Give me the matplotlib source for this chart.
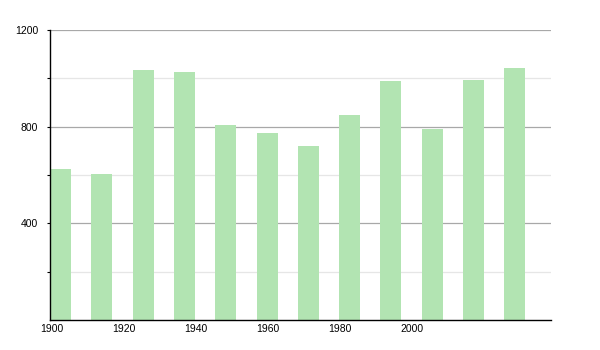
import matplotlib
matplotlib.use('Agg')
import matplotlib.pyplot as plt
import numpy as np

years = [1900, 1910, 1920, 1930, 1940, 1950, 1960, 1970, 1980, 1990, 2000, 2010]
values = [625, 604, 1034, 1027, 807, 774, 720, 847, 989, 792, 994, 1043]
label_years = [1900, 1920, 1940, 1960, 1980, 2000]

plt.rcParams['font.family'] = ['Liberation Sans', 'DejaVu Sans']

fig = plt.figure(figsize=(6, 3.5), dpi=100)
ax = fig.add_axes([50 / 600, 30 / 350, 501 / 600, 290 / 350])

pos = np.arange(len(years))
ax.bar(pos, values, width=0.51, align='edge', color='#b2e4b2', zorder=2)
ax.set_xlim(0, 12.13)
ax.set_ylim(0, 1200)

# grid: darker at labelled ticks, faint in between
ax.set_yticks([400, 800, 1200])
ax.set_yticks([200, 600, 1000], minor=True)
ax.grid(axis='y', which='major', color='#a8a8a8', linewidth=0.9, zorder=1)
ax.grid(axis='y', which='minor', color='#e6e6e6', linewidth=0.9, zorder=1)
ax.tick_params(axis='y', which='both', length=2.5, width=0.8, labelsize=7.5, pad=6)
ax.set_xticks([])

for s in ['top', 'right']:
    ax.spines[s].set_visible(False)
ax.spines['left'].set_linewidth(1.0)
ax.spines['bottom'].set_linewidth(1.0)

# year labels live on their own scale
ax2 = ax.twiny()
ax2.set_xlim(1899.4, 2038.6)
ax2.xaxis.set_ticks_position('bottom')
ax2.xaxis.set_label_position('bottom')
ax2.set_xticks(label_years)
ax2.tick_params(axis='x', length=0, labelsize=7.5, pad=3)
for s in ax2.spines.values():
    s.set_visible(False)

fig.savefig('out.png', dpi=100)
